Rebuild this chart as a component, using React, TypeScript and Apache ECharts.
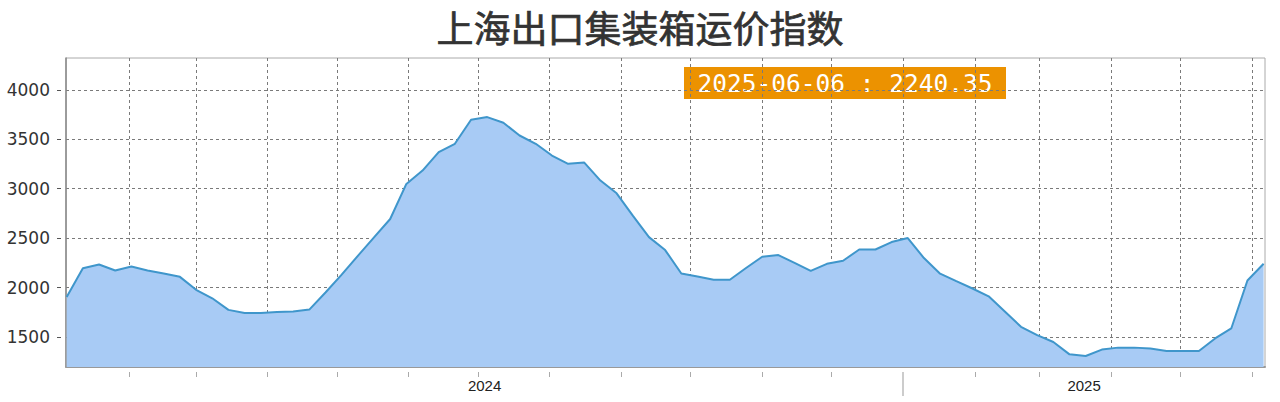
import React, { useEffect, useRef } from "react";
import * as echarts from "echarts";

const TITLE = "上海出口集装箱运价指数";
const START_DATE = "2024-01-05";
const values: number[] = [
  1905, 2196, 2233, 2172, 2213, 2172, 2142, 2108, 1977, 1891,
  1774, 1743, 1743, 1752, 1757, 1777, 1950, 2130, 2321, 2507,
  2693, 3048, 3183, 3369, 3454, 3697, 3724, 3667, 3538, 3454,
  3335, 3251, 3264, 3082, 2953, 2727, 2510, 2379, 2142, 2111,
  2078, 2078, 2197, 2311, 2328, 2250, 2169, 2240, 2271, 2385,
  2385, 2460, 2501, 2298, 2140, 2064, 1990, 1911, 1758, 1603,
  1518, 1449, 1324, 1307, 1372, 1392, 1392, 1382, 1358, 1358,
  1358, 1485, 1586, 2071, 2240.35,
];
const monthTicks: string[] = [
  "2024-02-01", "2024-03-01", "2024-04-01", "2024-05-01", "2024-06-01",
  "2024-07-01", "2024-08-01", "2024-09-01", "2024-10-01", "2024-11-01",
  "2024-12-01", "2025-01-01", "2025-02-01", "2025-03-01", "2025-04-01",
  "2025-05-01", "2025-06-01",
];
const yearBreaks: string[] = ["2025-01-01"];
const yTicks: number[] = [1500, 2000, 2500, 3000, 3500, 4000];
const Y_MIN = 1196;
const Y_MAX = 4322;

const DAY = 86400000;
const ts = (s: string) => Date.parse(s + "T00:00:00Z");
const dates: number[] = values.map((_, i) => ts(START_DATE) + i * 7 * DAY);
const fmtDate = (t: number) => new Date(t).toISOString().slice(0, 10);

export default function App() {
  const ref = useRef<HTMLDivElement>(null);
  useEffect(() => {
    if (!ref.current) return;
    const chart = echarts.init(ref.current, null, { renderer: "svg" });
    const xMin = dates[0] - 0.3 * DAY;
    const xMax = dates[dates.length - 1] + 0.6 * DAY;
    const breakTs = yearBreaks.map(ts);
    const yearMids = [(xMin + breakTs[0]) / 2, (breakTs[0] + xMax) / 2];
    const monthTs = monthTicks.map(ts);
    const last = values.length - 1;
    const dash = { type: [3, 3] as any, color: "#7a7a7a", width: 1 };
    chart.setOption({
      animation: false,
      title: {
        text: TITLE,
        left: "center",
        top: 3,
        textStyle: {
          fontFamily: "Noto Sans CJK SC",
          fontSize: 37,
          fontWeight: "normal",
          color: "#333",
          textBorderColor: "#333",
          textBorderWidth: 0.7,
        },
      },
      grid: {
        left: 66,
        right: 15,
        top: 58,
        bottom: 35,
        show: true,
        borderColor: "#aaa",
        borderWidth: 1,
      },
      xAxis: [
        {
          type: "value",
          min: xMin,
          max: xMax,
          axisLine: { show: true, onZero: false, lineStyle: { color: "#999", width: 2 } },
          axisTick: { show: false, customValues: monthTs },
          axisLabel: { show: false },
          splitLine: { show: true, lineStyle: dash },
        },
        {
          type: "value",
          min: xMin,
          max: xMax,
          position: "bottom",
          offset: 5,
          axisLine: { show: false },
          axisTick: { show: true, length: 5, customValues: monthTs, lineStyle: { color: "#aaa" } },
          axisLabel: { show: false },
          splitLine: { show: false },
        },
        {
          type: "value",
          min: xMin,
          max: xMax,
          position: "bottom",
          offset: 5,
          axisLine: { show: false },
          axisTick: { show: true, length: 24, customValues: breakTs, lineStyle: { color: "#ccc", width: 2 } },
          axisLabel: {
            show: true,
            customValues: yearMids,
            formatter: (v: number) => String(new Date(v).getUTCFullYear()),
            margin: 6,
            fontSize: 15,
            fontFamily: "Liberation Sans",
            color: "#222",
          },
          splitLine: { show: false },
        },
      ],
      yAxis: [
        {
          type: "value",
          min: Y_MIN,
          max: Y_MAX,
          axisLine: { show: true, lineStyle: { color: "#888", width: 1.5 } },
          axisTick: { show: false, customValues: yTicks },
          axisLabel: { show: false },
          splitLine: { show: true, lineStyle: dash },
        },
        {
          type: "value",
          min: Y_MIN,
          max: Y_MAX,
          position: "left",
          offset: 5,
          axisLine: { show: false },
          axisTick: { show: true, length: 4, customValues: yTicks, lineStyle: { color: "#555" } },
          axisLabel: {
            customValues: yTicks,
            formatter: (v: number) => String(v),
            margin: 11,
            fontSize: 17,
            fontFamily: "DejaVu Sans",
            color: "#333",
          },
          splitLine: { show: false },
        },
      ],
      series: [
        {
          type: "line",
          xAxisIndex: 0,
          yAxisIndex: 0,
          data: dates.map((d, i) => [d, values[i]]),
          symbol: "none",
          lineStyle: { color: "#3f96cb", width: 2 },
          areaStyle: { color: "#a8cbf5", opacity: 1, origin: "start" },
        },
      ],
      graphic: [
        {
          type: "group",
          left: 684,
          top: 67,
          children: [
            {
              type: "rect",
              shape: { x: 0, y: 0, width: 322, height: 32 },
              style: { fill: "#ec9200" },
            },
            {
              type: "text",
              x: 161,
              y: 16,
              style: {
                text: `${fmtDate(dates[last])} : ${values[last].toFixed(2)}`,
                fill: "#fff",
                fontFamily: "DejaVu Sans Mono",
                fontSize: 24.5,
                align: "center",
                verticalAlign: "middle",
              },
            },
          ],
        },
      ],
    });
    return () => chart.dispose();
  }, []);
  return (
    <div
      ref={ref}
      style={{ position: "fixed", left: 0, top: 0, width: 1280, height: 402, background: "#fff" }}
    />
  );
}
